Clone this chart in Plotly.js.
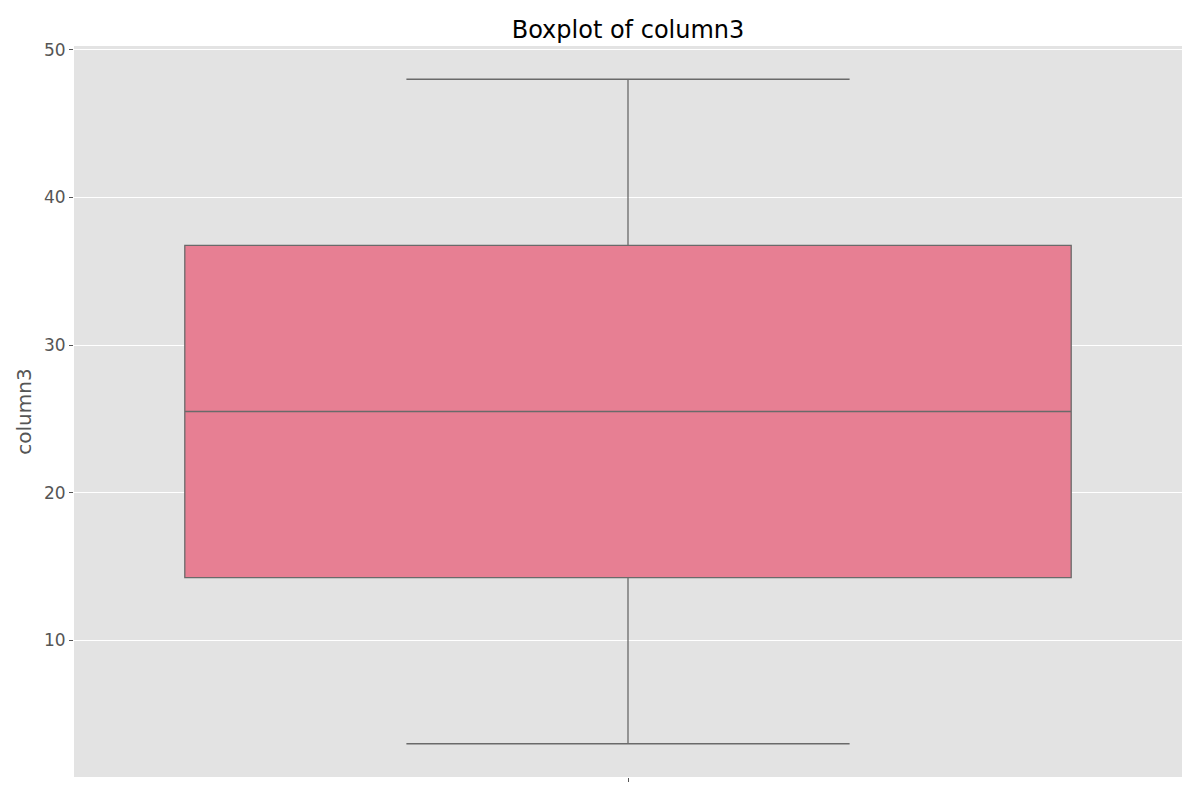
<!DOCTYPE html>
<html>
<head>
<meta charset="utf-8">
<script src="https://cdn.plot.ly/plotly-3.0.1.min.js"></script>
<style>html,body{margin:0;padding:0;background:#fff;}#chart{width:1200px;height:800px;}</style>
</head>
<body>
<div id="chart"></div>
<script>
const category = ["column3"];
const lowerFence = [3];
const q1Values = [14.25];
const medianValues = [25.5];
const q3Values = [36.75];
const upperFence = [48];
const yTicks = [10, 20, 30, 40, 50];

const trace = {
  type: 'box',
  x: [0],
  q1: q1Values,
  median: medianValues,
  q3: q3Values,
  lowerfence: lowerFence,
  upperfence: upperFence,
  width: 0.8,
  whiskerwidth: 0.5,
  boxpoints: false,
  fillcolor: '#e77f93',
  line: {color: '#6a6a6a', width: 1.3},
  hoverinfo: 'skip',
  showlegend: false
};

const layout = {
  width: 1200, height: 800,
  margin: {l: 74, r: 18, t: 46, b: 23},
  paper_bgcolor: '#ffffff',
  plot_bgcolor: '#e3e3e3',
  font: {family: 'DejaVu Sans, sans-serif', color: '#555555'},
  title: {text: 'Boxplot of ' + category[0], font: {size: 24, color: '#000000', family: 'DejaVu Sans, sans-serif'}, x: 0.5, xref: 'paper', y: 0.9635, yref: 'container', yanchor: 'middle'},
  xaxis: {
    range: [-0.5, 0.5], showgrid: false, zeroline: false,
    tickvals: [0], ticktext: [''], ticks: 'outside', ticklen: 4, tickcolor: '#555555', tickwidth: 1,
    showline: false, fixedrange: true
  },
  yaxis: {
    range: [0.75, 50.25], tickvals: yTicks, ticktext: yTicks.map(String),
    showgrid: true, gridcolor: '#ffffff', gridwidth: 1, zeroline: false,
    ticks: 'outside', ticklen: 4, tickcolor: '#555555', tickwidth: 1,
    tickfont: {size: 17, color: '#555555'},
    title: {text: category[0], font: {size: 20, color: '#555555'}, standoff: 6},
    showline: false, fixedrange: true
  }
};

Plotly.newPlot('chart', [trace], layout, {displayModeBar: false, staticPlot: true});
</script>
</body>
</html>
